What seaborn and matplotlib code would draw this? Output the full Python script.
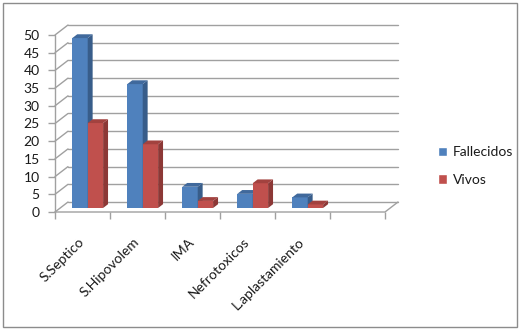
import matplotlib
matplotlib.use("Agg")
import matplotlib.pyplot as plt
from matplotlib.patches import Polygon, Rectangle
import seaborn as sns
import pandas as pd

# datos
categorias = ["S.Septico", "S.Hipovolem", "IMA", "Nefrotoxicos", "L.aplastamiento", ""]
fallecidos = [48, 35, 6, 4, 3]
vivos = [24, 18, 2, 7, 1]
series = ["Fallecidos", "Vivos"]
yticks = list(range(0, 55, 5))

df = pd.DataFrame({
    "causa": categorias[:5] * 2,
    "valor": fallecidos + vivos,
    "grupo": [series[0]] * 5 + [series[1]] * 5,
})

sns.set_theme(style="white")
plt.rcParams["font.family"] = ["Lato", "DejaVu Sans"]

W, H = 521, 330
fig = plt.figure(figsize=(W / 100, H / 100), dpi=100)

# pixel geometry of the pseudo 3d frame
px_x = 55.0          # px per category
px_y = 177.0 / 50    # px per unit
dx = 13 / px_x       # depth offset of back wall (data units)
dy = 10 / px_y
left_px, floor_px, top_px = 55, 212, 22
xmax = -0.5 + (400 - left_px) / px_x
ymax = (floor_px - top_px) / px_y
ax = fig.add_axes([left_px / W, (H - floor_px) / H, (400 - left_px) / W, (floor_px - top_px) / H])

front = {"Fallecidos": "#4F81BD", "Vivos": "#C0504D"}
side = {"Fallecidos": "#385D8A", "Vivos": "#8C3836"}
topc = {"Fallecidos": "#40699C", "Vivos": "#A2423F"}
txt = "#1a1a1a"
fs = 10

sns.barplot(data=df, x="causa", y="valor", hue="grupo", order=categorias,
            hue_order=series, palette=front, width=0.56, saturation=1,
            ax=ax, legend=True)

ax.set_xlim(-0.5, xmax)
ax.set_ylim(0, ymax)
ax.set_xlabel("")
ax.set_ylabel("")
for s in ax.spines.values():
    s.set_visible(False)

grid = "#a0a0a0"
n = len(categorias)
# back wall gridlines + left wall diagonals
for v in yticks:
    ax.plot([-0.5 + dx, n - 0.5 + dx], [v + dy, v + dy], color=grid, lw=1, zorder=0.5, clip_on=False)
    ax.plot([-0.5, -0.5 + dx], [v, v + dy], color=grid, lw=1, zorder=0.5, clip_on=False)
# floor
ax.plot([-0.5, n - 0.5, n - 0.5 + dx], [0, 0, dy], color=grid, lw=1, zorder=0.6, clip_on=False)
ax.plot([-0.5, -0.5], [0, yticks[-1]], color=grid, lw=1, zorder=0.6, clip_on=False)

# bars: push back into depth and add side / top faces
bx, by = 0.4 * dx, 0.4 * dy
ddx, ddy = 0.38 * dx, 0.38 * dy
bars = [p for p in ax.patches if isinstance(p, Rectangle) and p.get_height() > 0]
for p in bars:
    g = series[0] if p.get_facecolor()[0] < 0.5 else series[1]
    z = 2 if g == series[0] else 3
    p.set_x(p.get_x() + bx)
    p.set_y(by)
    p.set_edgecolor("none")
    p.set_zorder(z)
    x0, w, h = p.get_x(), p.get_width(), p.get_height()
    y0 = by
    ax.add_patch(Polygon([(x0 + w, y0), (x0 + w + ddx, y0 + ddy), (x0 + w + ddx, y0 + h + ddy),
                          (x0 + w, y0 + h)], closed=True, fc=side[g], ec="none", zorder=z))
    ax.add_patch(Polygon([(x0, y0 + h), (x0 + ddx, y0 + h + ddy), (x0 + w + ddx, y0 + h + ddy),
                          (x0 + w, y0 + h)], closed=True, fc=topc[g], ec="none", zorder=z))

# ticks
ax.set_yticks(yticks)
ax.tick_params(axis="y", which="major", left=True, length=5, width=1, color=grid,
               pad=6, labelsize=fs, labelcolor=txt)
ax.set_xticks(range(n))
ax.set_xticklabels(categorias, rotation=45, ha="right", va="center",
                   rotation_mode="anchor", fontsize=fs, color=txt)
ax.tick_params(axis="x", which="major", bottom=True, length=0, pad=20)
ax.set_xticks([i - 0.5 for i in range(n + 1)], minor=True)
ax.tick_params(axis="x", which="minor", bottom=True, length=5, width=1, color=grid)

sns.move_legend(ax, "center left", bbox_to_anchor=(425 / W, (H - 166) / H),
                bbox_transform=fig.transFigure, frameon=False, title=None,
                fontsize=fs, handlelength=0.65, handleheight=0.65,
                handletextpad=0.45, labelspacing=1.15)
for t in ax.get_legend().get_texts():
    t.set_color(txt)

fig.patches.append(Rectangle((3 / W, 3 / H), 514 / W, 324 / H, transform=fig.transFigure,
                             fill=False, edgecolor="#8c8c8c", lw=1))

fig.savefig("out.png", dpi=100)
